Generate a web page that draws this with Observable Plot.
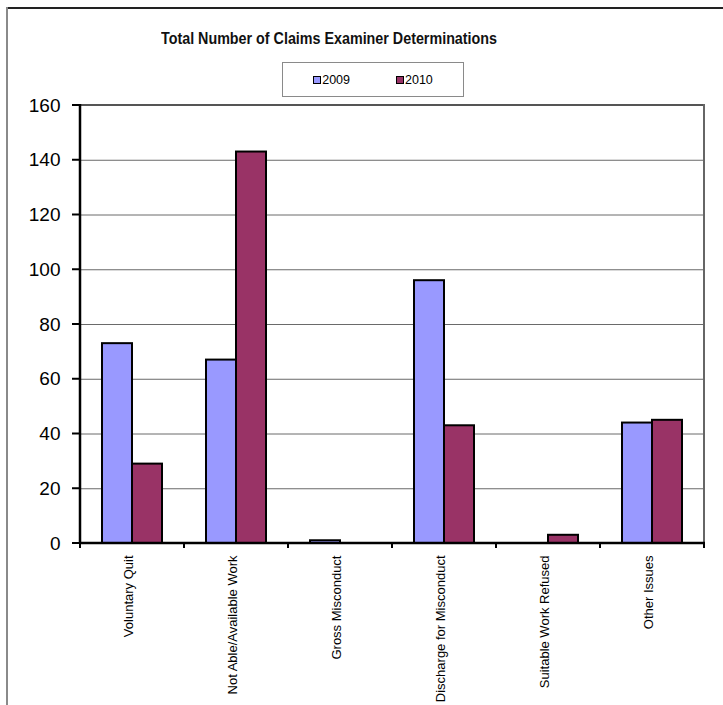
<!DOCTYPE html>
<html><head><meta charset="utf-8">
<script src="https://cdn.jsdelivr.net/npm/d3@7"></script>
<script src="https://cdn.jsdelivr.net/npm/@observablehq/plot@0.6"></script>
<style>
body{margin:0;background:#fff;}
#wrap{position:relative;width:723px;height:705px;overflow:hidden;font-family:"Liberation Sans Narrow","Arial Narrow","Liberation Sans",Arial,sans-serif;color:#000;}
#frameTop{position:absolute;left:6px;top:7px;width:717px;height:0;border-top:2px solid #222;}
#frameLeft{position:absolute;left:6px;top:7px;width:0;height:698px;border-left:2px solid #8a8a8a;}
#title{position:absolute;left:161px;top:30px;white-space:nowrap;font-size:16px;font-weight:bold;transform-origin:0 0;color:#111;}
#legend{position:absolute;left:282px;top:62px;width:180px;height:33px;border:1px solid #8a8a8a;display:flex;align-items:center;justify-content:center;gap:46px;font-size:12.5px;}
.item{display:flex;align-items:center;}
.sw{display:inline-block;width:6px;height:6px;border:1px solid #000;margin-right:1px;}
#chart{position:absolute;left:0;top:90px;}
</style></head>
<body>
<div id="wrap">
  <div id="frameTop"></div>
  <div id="frameLeft"></div>
  <div id="title"></div>
  <div id="legend"></div>
  <div id="chart"></div>
</div>
<script>
const titleText = "Total Number of Claims Examiner Determinations";
const categories = ["Voluntary Quit","Not Able/Available Work","Gross Misconduct","Discharge for Misconduct","Suitable Work Refused","Other Issues"];
const values2009 = [73, 67, 1, 96, 0, 44];
const values2010 = [29, 143, 0, 43, 3, 45];
const seriesNames = ["2009", "2010"];
const seriesColors = ["#9999FF", "#993366"];
const yTicks = [0, 20, 40, 60, 80, 100, 120, 140, 160];

const titleEl = document.getElementById("title");
titleEl.textContent = titleText;
const tw = titleEl.getBoundingClientRect().width;
titleEl.style.transform = `scaleX(${336 / tw})`;

const legend = document.getElementById("legend");
seriesNames.forEach((s, i) => {
  const it = document.createElement("div"); it.className = "item";
  const sw = document.createElement("span"); sw.className = "sw"; sw.style.background = seriesColors[i];
  const tx = document.createElement("span"); tx.textContent = s;
  it.appendChild(sw); it.appendChild(tx); legend.appendChild(it);
});

const data2009 = categories.map((c, i) => ({category: c, value: values2009[i]}));
const data2010 = categories.map((c, i) => ({category: c, value: values2010[i]}));

function axesMark(index, scales, values, dimensions) {
  const {x, y} = scales;
  const {width, height, marginLeft, marginRight, marginTop, marginBottom} = dimensions;
  const left = marginLeft, right = width - marginRight, top = marginTop, bottom = height - marginBottom;
  const g = d3.create("svg:g");
  const line = (x1, y1, x2, y2, stroke, sw) => g.append("line")
    .attr("x1", x1).attr("y1", y1).attr("x2", x2).attr("y2", y2)
    .attr("stroke", stroke).attr("stroke-width", sw);
  line(left, top, right + 1, top, "#555", 2);
  line(right, top - 1, right, bottom, "#666", 2);
  yTicks.forEach(t => line(left - 8, y(t), left, y(t), "#000", 2));
  const bw = x.bandwidth();
  const edges = categories.map(c => x(c)).concat([x(categories[categories.length - 1]) + bw]);
  edges.forEach(e => line(e, bottom, e, bottom + 5, "#000", 2));
  line(left, top - 1, left, bottom + 1, "#000", 2.5);
  line(left - 1, bottom, right + 1, bottom, "#000", 2.5);
  return g.node();
}

const chart = Plot.plot({
  width: 723, height: 615,
  marginLeft: 80, marginRight: 19, marginTop: 15, marginBottom: 162,
  x: {domain: categories, padding: 0, axis: null},
  y: {domain: [0, 160], axis: null},
  marks: [
    Plot.ruleY(yTicks.slice(1, -1), {stroke: "#6a6a6a", strokeWidth: 1}),
    Plot.barY(data2009, {x: "category", y: "value", fill: seriesColors[0], stroke: "#000", strokeWidth: 2, insetLeft: 22, insetRight: 52}),
    Plot.barY(data2010, {x: "category", y: "value", fill: seriesColors[1], stroke: "#000", strokeWidth: 2, insetLeft: 52, insetRight: 22}),
    axesMark,
    Plot.text(yTicks, {y: d => d, text: d => String(d), frameAnchor: "left", dx: -20, textAnchor: "end", fontSize: 19, fontFamily: "Liberation Sans Narrow, Arial Narrow, sans-serif", fill: "#000"}),
    Plot.text(categories, {x: d => d, text: d => d, frameAnchor: "bottom", rotate: -90, textAnchor: "end", dy: 12, fontSize: 13, fontFamily: "Liberation Sans, Arial, sans-serif", fill: "#000"})
  ]
});
document.getElementById("chart").appendChild(chart);
</script>
</body></html>
